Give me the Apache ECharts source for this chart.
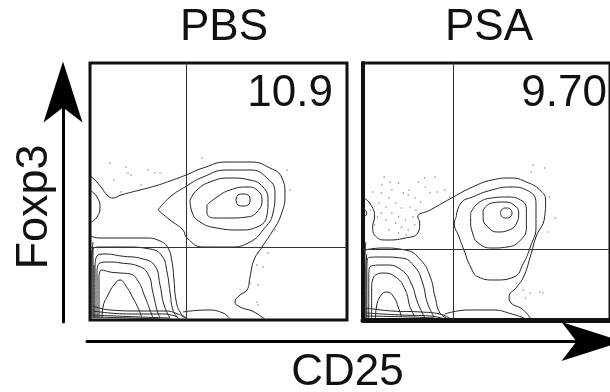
<!DOCTYPE html>
<html>
<head>
    <meta charset="utf-8">
    <title>Foxp3 / CD25 contour plots: PBS vs PSA</title>
    <script src="https://cdn.jsdelivr.net/npm/echarts@6.0.0/dist/echarts.min.js"></script>
    <style>
        html, body { margin: 0; padding: 0; background: #fff; }
        #main { width: 610px; height: 392px; }
    </style>
</head>
<body>
<div id="main"></div>
<script>
    // panel names and the upper-right quadrant percentages
    var panelNames = ['PBS', 'PSA'];
    var quadrantValues = ['10.9', '9.70'];
    // quadrant gate positions (channel units, 0-257 on both axes)
    var gateX = [96, 94];
    var gateY = [73, 71];

    // contour lines, [CD25, Foxp3] in channel units
    var pbsContours = [
        [[0,144],[5,140],[11,133],[18,124],[23,122],[31,125],[50,130],[65,134],[80,139],[96,145],[113,152],[137,158],[160,158],[180,152],[192,142],[195,125],[191,105],[182,88],[172,73],[164,60],[160,43],[157,30],[150,25],[145,18],[150,13],[162,9],[172,3],[176,0]],
        [[0,130],[7,123],[10,113],[7,103],[0,97]],
        [[68,110],[80,123],[95,133],[113,143],[137,150],[160,150],[177,142],[185,127],[183,107],[173,90],[160,78],[140,73],[113,73],[97,82],[93,90],[80,100],[68,110]],
        [[100,120],[107,130],[120,138],[140,142],[160,140],[173,133],[178,120],[177,105],[167,93],[150,90],[127,92],[110,98],[102,108],[100,120]],
        [[117,115],[127,123],[140,130],[157,133],[167,130],[172,120],[167,108],[157,103],[140,102],[125,102],[117,107],[117,115]],
        [[146,120],[148,125],[153,126],[158,125],[160,120],[158,115],[153,114],[148,115],[146,120]],
        [[0,84],[10,82],[30,82],[55,82],[70,79],[78,72],[82,58],[84,40],[86,20],[90,8],[96,2],[100,0]],
        [[3,2],[3,70],[10,73],[35,73],[60,71],[72,64],[77,48],[80,28],[83,10],[88,2]],
        [[5,2],[5,50],[7,64],[15,66],[31,64],[53,61],[65,54],[70,35],[74,15],[80,2]],
        [[7,2],[7,45],[10,57],[20,58],[31,57],[48,54],[58,46],[63,27],[67,10],[70,2]],
        [[9,2],[9,40],[12,50],[20,48],[30,47],[40,46],[48,39],[55,23],[60,10],[63,2]],
        [[12,2],[13,13],[18,25],[24,35],[30,40],[36,34],[43,22],[49,10],[52,2]],
        [[2,2],[2,60],[3,78]],
        [[1,2],[1,50],[2,70]],
        [[4,2],[4,40],[4,55]],
        [[3,14],[20,10],[50,9],[75,9],[88,6],[95,2]],
        [[3,9],[40,6],[70,6],[85,4],[90,0]],
        [[3,5],[50,3],[80,2]],
        [[3,3],[40,2],[70,1]],
        [[93,8],[117,10],[133,7],[140,1]]
    ];
    var psaContours = [
        [[0,122],[7,117],[12,103],[10,93],[14,83],[24,80],[44,82],[57,87],[59,97],[57,103],[70,110],[94,123],[114,133],[134,140],[154,142],[170,138],[184,130],[190,120],[189,103],[180,83],[174,63],[167,43],[160,33],[152,23],[154,17],[164,12],[170,7],[174,2],[176,0]],
        [[0,112],[4,107],[0,102]],
        [[97,103],[102,117],[114,123],[134,130],[154,133],[170,130],[180,117],[180,93],[174,73],[167,57],[157,43],[137,40],[120,43],[112,53],[105,70],[100,83],[95,97],[97,103]],
        [[112,107],[120,117],[134,122],[150,123],[164,120],[170,110],[170,93],[164,80],[150,73],[134,72],[120,77],[114,87],[112,100],[112,107]],
        [[125,110],[134,117],[147,118],[157,115],[162,107],[160,97],[152,90],[140,88],[130,93],[125,102],[125,110]],
        [[143,107],[145,111],[149,112],[153,111],[155,107],[153,103],[149,102],[145,103],[143,107]],
        [[2,70],[20,72],[44,70],[60,60],[70,43],[75,23],[80,7],[87,2]],
        [[4,2],[4,45],[5,62],[20,63],[40,62],[54,53],[62,37],[67,17],[74,3]],
        [[6,2],[6,40],[7,53],[24,55],[40,50],[50,37],[57,17],[64,3]],
        [[9,2],[9,30],[10,40],[20,47],[34,43],[44,30],[49,13],[54,3]],
        [[13,2],[14,13],[19,25],[25,28],[32,23],[37,12],[40,3]],
        [[2,2],[2,60],[3,78]],
        [[3,2],[3,50],[4,66]],
        [[3,12],[30,9],[60,8],[80,6],[90,2]],
        [[3,7],[40,5],[70,4],[85,1]],
        [[3,4],[50,3],[75,2]],
        [[85,6],[110,10],[135,10],[155,6],[170,1]]
    ];
    // single events outside the contours
    var pbsDots = [[20,157],[36,153],[38,147],[41,145],[65,147],[70,147],[51,135],[31,128],[112,162],[197,150],[200,130],[185,90],[168,67],[178,67],[167,55],[173,53],[160,37],[168,35],[167,18],[168,15],[24,140],[58,150]];
    var psaDots = [[22,143],[37,137],[64,142],[75,143],[10,128],[19,127],[27,122],[42,127],[47,125],[54,122],[65,133],[70,127],[77,128],[85,130],[90,123],[17,117],[24,113],[34,117],[40,112],[49,113],[55,110],[30,107],[37,103],[44,100],[52,103],[24,100],[34,97],[40,93],[47,90],[54,95],[19,107],[15,103],[27,90],[37,87],[45,85],[20,135],[30,130],[60,118],[8,110],[12,95],[48,130],[28,138],[58,138],[177,155],[189,152],[175,148],[194,123],[200,102],[192,88],[160,37],[167,30],[174,27],[184,28],[169,22],[187,27]];

    var chart = echarts.init(document.getElementById('main'));
    var font = '"Liberation Sans", Arial, Helvetica, sans-serif';
    var arrowPath = 'path://M19.5,0 L39,61 L19.5,46 L0,61 Z';
    var hidden = { show: false };
    var bigText = { fontFamily: font, fontSize: 44, fontWeight: 'normal', color: '#111' };

    function panelAxis(idx, thick) {
        return {
            type: 'value', gridIndex: idx, min: 0, max: 257,
            axisLine: { show: !!thick, onZero: false, lineStyle: { color: '#111', width: thick || 0 } },
            axisTick: hidden, axisLabel: hidden, splitLine: hidden
        };
    }

    var series = [];
    [pbsContours, psaContours].forEach(function (contours, p) {
        contours.forEach(function (c, i) {
            var s = {
                type: 'line', xAxisIndex: p, yAxisIndex: p, data: c,
                showSymbol: false, smooth: 0.5, silent: true,
                lineStyle: { color: '#222', width: 1 }
            };
            if (i === 0) {
                s.markLine = {
                    silent: true, symbol: ['none', 'none'], label: hidden,
                    lineStyle: { color: '#333', width: 1, type: 'solid' },
                    data: [{ xAxis: gateX[p] }, { yAxis: gateY[p] }]
                };
            }
            series.push(s);
        });
    });
    [pbsDots, psaDots].forEach(function (d, p) {
        series.push({
            type: 'scatter', xAxisIndex: p, yAxisIndex: p, data: d,
            symbolSize: 1.6, silent: true, itemStyle: { color: '#666' }
        });
    });

    var option = {
        animation: false,
        title: [
            { text: panelNames[0], left: 224, top: 6, padding: 0, textAlign: 'center', textStyle: bigText },
            { text: panelNames[1], left: 489, top: 6, padding: 0, textAlign: 'center', textStyle: bigText },
            { text: quadrantValues[0], right: 277, top: 72, padding: 0, textStyle: bigText },
            { text: quadrantValues[1], right: 3, top: 72, padding: 0, textStyle: bigText }
        ],
        grid: [
            { left: 90, top: 63, width: 257, height: 257, show: true, borderColor: '#111', borderWidth: 3 },
            { left: 363, top: 63, width: 257, height: 257, show: true, borderColor: '#111', borderWidth: 3 },
            { left: 63, top: 92, width: 20, height: 230 },
            { left: 87, top: 340, width: 505, height: 6 }
        ],
        xAxis: [
            panelAxis(0),
            panelAxis(1, 5),
            { type: 'value', gridIndex: 2, show: false },
            {
                type: 'value', gridIndex: 3, min: 0, max: 1,
                name: 'CD25', nameLocation: 'middle', nameGap: 9,
                nameTextStyle: { fontFamily: font, fontSize: 44, color: '#111', padding: [0, 0, 0, 16] },
                axisLine: { show: true, symbol: ['none', arrowPath], symbolSize: [39, 61],
                            lineStyle: { color: '#000', width: 3 } },
                axisTick: hidden, axisLabel: hidden, splitLine: hidden
            }
        ],
        yAxis: [
            panelAxis(0),
            panelAxis(1, 4),
            {
                type: 'value', gridIndex: 2, min: 0, max: 1,
                name: 'Foxp3', nameLocation: 'middle', nameGap: 6,
                nameTextStyle: { fontFamily: font, fontSize: 45, color: '#111' },
                axisLine: { show: true, symbol: ['none', arrowPath], symbolSize: [39, 61],
                            lineStyle: { color: '#000', width: 3 } },
                axisTick: hidden, axisLabel: hidden, splitLine: hidden
            },
            { type: 'value', gridIndex: 3, show: false }
        ],
        series: series
    };

    chart.setOption(option);
</script>
</body>
</html>
